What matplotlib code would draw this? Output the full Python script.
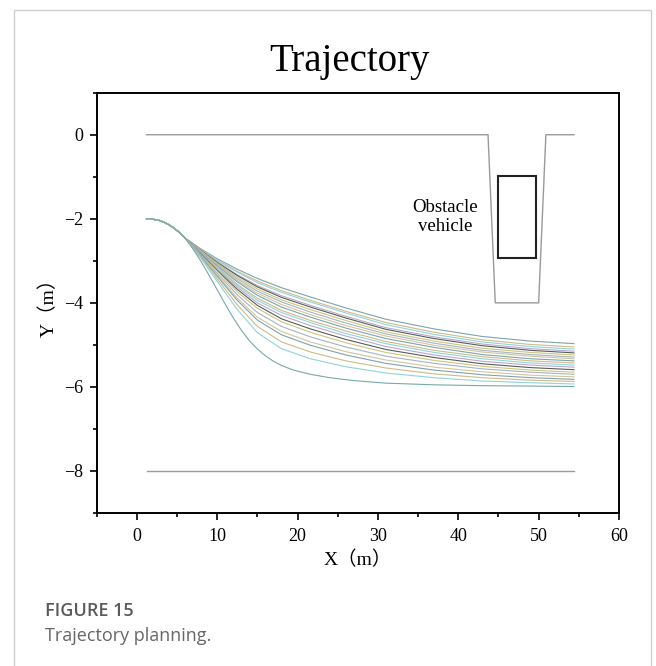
import matplotlib
matplotlib.use("Agg")
import matplotlib.pyplot as plt
from matplotlib.patches import Rectangle

# shared lead-in of all candidate paths (m)
lead_x = [1.2, 2.0, 2.8, 3.6, 4.4, 5.2, 6.0]
lead_y = [-2.0, -2.01, -2.04, -2.10, -2.19, -2.31, -2.46]

# stations where the candidate paths split apart (m)
tail_x = [8, 10, 12.5, 15, 18, 21.6, 26, 31, 37, 43, 49, 54.4]

# lateral position of each candidate path at the stations above (m)
paths_y = [
    [-2.72, -2.95, -3.20, -3.42, -3.64, -3.86, -4.12, -4.39, -4.62, -4.80, -4.91, -4.97],
    [-2.73, -2.98, -3.25, -3.48, -3.71, -3.94, -4.20, -4.47, -4.70, -4.88, -4.99, -5.05],
    [-2.74, -2.99, -3.27, -3.52, -3.75, -3.98, -4.24, -4.52, -4.75, -4.93, -5.04, -5.10],
    [-2.75, -3.02, -3.33, -3.59, -3.83, -4.06, -4.32, -4.59, -4.81, -4.98, -5.09, -5.15],
    [-2.76, -3.04, -3.35, -3.62, -3.87, -4.10, -4.36, -4.63, -4.85, -5.02, -5.13, -5.19],
    [-2.77, -3.06, -3.39, -3.67, -3.93, -4.16, -4.42, -4.69, -4.91, -5.08, -5.18, -5.24],
    [-2.78, -3.08, -3.43, -3.72, -3.98, -4.22, -4.48, -4.74, -4.96, -5.13, -5.23, -5.29],
    [-2.79, -3.10, -3.47, -3.77, -4.04, -4.28, -4.54, -4.79, -5.01, -5.17, -5.27, -5.33],
    [-2.80, -3.12, -3.50, -3.82, -4.10, -4.34, -4.60, -4.85, -5.06, -5.23, -5.33, -5.38],
    [-2.81, -3.15, -3.56, -3.89, -4.18, -4.42, -4.67, -4.92, -5.13, -5.28, -5.38, -5.43],
    [-2.82, -3.17, -3.59, -3.94, -4.23, -4.47, -4.73, -4.97, -5.18, -5.33, -5.43, -5.48],
    [-2.83, -3.20, -3.63, -4.00, -4.30, -4.54, -4.79, -5.04, -5.24, -5.39, -5.48, -5.53],
    [-2.84, -3.23, -3.68, -4.06, -4.38, -4.62, -4.87, -5.11, -5.30, -5.45, -5.54, -5.59],
    [-2.86, -3.25, -3.74, -4.13, -4.45, -4.70, -4.95, -5.18, -5.37, -5.51, -5.60, -5.65],
    [-2.87, -3.30, -3.81, -4.23, -4.56, -4.81, -5.05, -5.27, -5.44, -5.57, -5.65, -5.70],
    [-2.89, -3.34, -3.89, -4.34, -4.68, -4.93, -5.16, -5.36, -5.53, -5.64, -5.72, -5.76],
    [-2.90, -3.37, -3.94, -4.41, -4.76, -5.01, -5.24, -5.44, -5.60, -5.71, -5.78, -5.82],
    [-2.93, -3.43, -4.05, -4.56, -4.93, -5.17, -5.38, -5.55, -5.69, -5.78, -5.84, -5.87],
    [-2.95, -3.49, -4.16, -4.71, -5.09, -5.33, -5.52, -5.67, -5.78, -5.86, -5.90, -5.93],
]

# the sharpest lane change, sampled more finely (m)
sharp_x = [7, 8, 9, 10, 11, 12, 13, 14, 15, 16, 17, 18, 19.5, 21.6, 24, 27, 31,
           37, 43, 49, 54.4]
sharp_y = [-2.72, -3.02, -3.35, -3.69, -4.03, -4.36, -4.65, -4.90, -5.10, -5.26,
           -5.39, -5.49, -5.60, -5.70, -5.78, -5.85, -5.91, -5.95, -5.97, -5.98,
           -5.99]

path_colors = ["#7fa3ad", "#cdbb86", "#8fd3df", "#b7aacb", "#5a5a5a",
               "#c9c77a", "#a4b4c4", "#d2c49c"]

# road edges, the upper one with the pocket around the parked car
edge_top_x = [1.2, 43.7, 44.6, 50.0, 50.9, 54.4]
edge_top_y = [0, 0, -4, -4, 0, 0]
edge_bottom_x = [1.2, 54.4]
edge_bottom_y = [-8, -8]

# parked car footprint: x0, y0, length, width
car_box = (45.0, -2.93, 4.7, 1.96)

serif = ["Liberation Serif", "Noto Sans CJK SC"]

fig = plt.figure(figsize=(6.56, 6.66), dpi=100)
ax = fig.add_axes([0.1474, 0.2297, 0.7962, 0.6311])

# light frame around the whole figure
fig.patches.append(Rectangle((13.5 / 656, -0.05), 637 / 656, 1.05 - 9.5 / 666,
                             transform=fig.transFigure, fill=False,
                             edgecolor="#cfcfcf", linewidth=1.0))

ax.plot(edge_top_x, edge_top_y, color="#9a9a9a", linewidth=1.0)
ax.plot(edge_bottom_x, edge_bottom_y, color="#9a9a9a", linewidth=1.0)

for i, tail in enumerate(paths_y):
    ax.plot(lead_x + tail_x, lead_y + tail, color=path_colors[i % len(path_colors)],
            linewidth=0.8)
ax.plot(lead_x + sharp_x, lead_y + sharp_y, color="#79a8a8", linewidth=0.8)

ax.add_patch(Rectangle(car_box[:2], car_box[2], car_box[3], fill=False,
                       edgecolor="#222222", linewidth=1.5))
ax.text(38.4, -1.96, "Obstacle\nvehicle", ha="center", va="center",
        fontsize=13.5, family="Liberation Serif", linespacing=1.15)

ax.set_xlim(-5, 60)
ax.set_ylim(-9, 1)
ax.set_xticks(range(0, 61, 10))
ax.set_xticks(range(-5, 61, 5), minor=True)
ax.set_yticks(range(-8, 1, 2))
ax.set_yticks(range(-9, 2, 1), minor=True)

for s in ax.spines.values():
    s.set_linewidth(1.4)
ax.tick_params(which="major", direction="out", length=5, width=1.2, labelsize=13,
               top=False, right=False)
ax.tick_params(which="minor", direction="out", length=3, width=1.2,
               top=False, right=False)
ax.tick_params(axis="x", pad=6)
ax.tick_params(axis="y", pad=5)
for lbl in ax.get_xticklabels() + ax.get_yticklabels():
    lbl.set_family(serif)

ax.set_xlabel("X（m）", fontsize=14, family=serif, labelpad=4)
ax.set_ylabel("Y（m）", fontsize=14, family=serif, labelpad=4)

fig.text(349 / 656, 1 - 71 / 666, "Trajectory", ha="center", va="baseline",
         fontsize=28, family="Liberation Serif")

fig.text(45 / 656, 1 - 611 / 666, "FIGURE 15", ha="left", va="center",
         fontsize=13, family="Open Sans", fontweight="semibold", color="#5a5a5a")
fig.text(45 / 656, 1 - 636 / 666, "Trajectory planning.", ha="left", va="center",
         fontsize=13, family="Open Sans", color="#666666")

fig.savefig("out.png", dpi=100)
